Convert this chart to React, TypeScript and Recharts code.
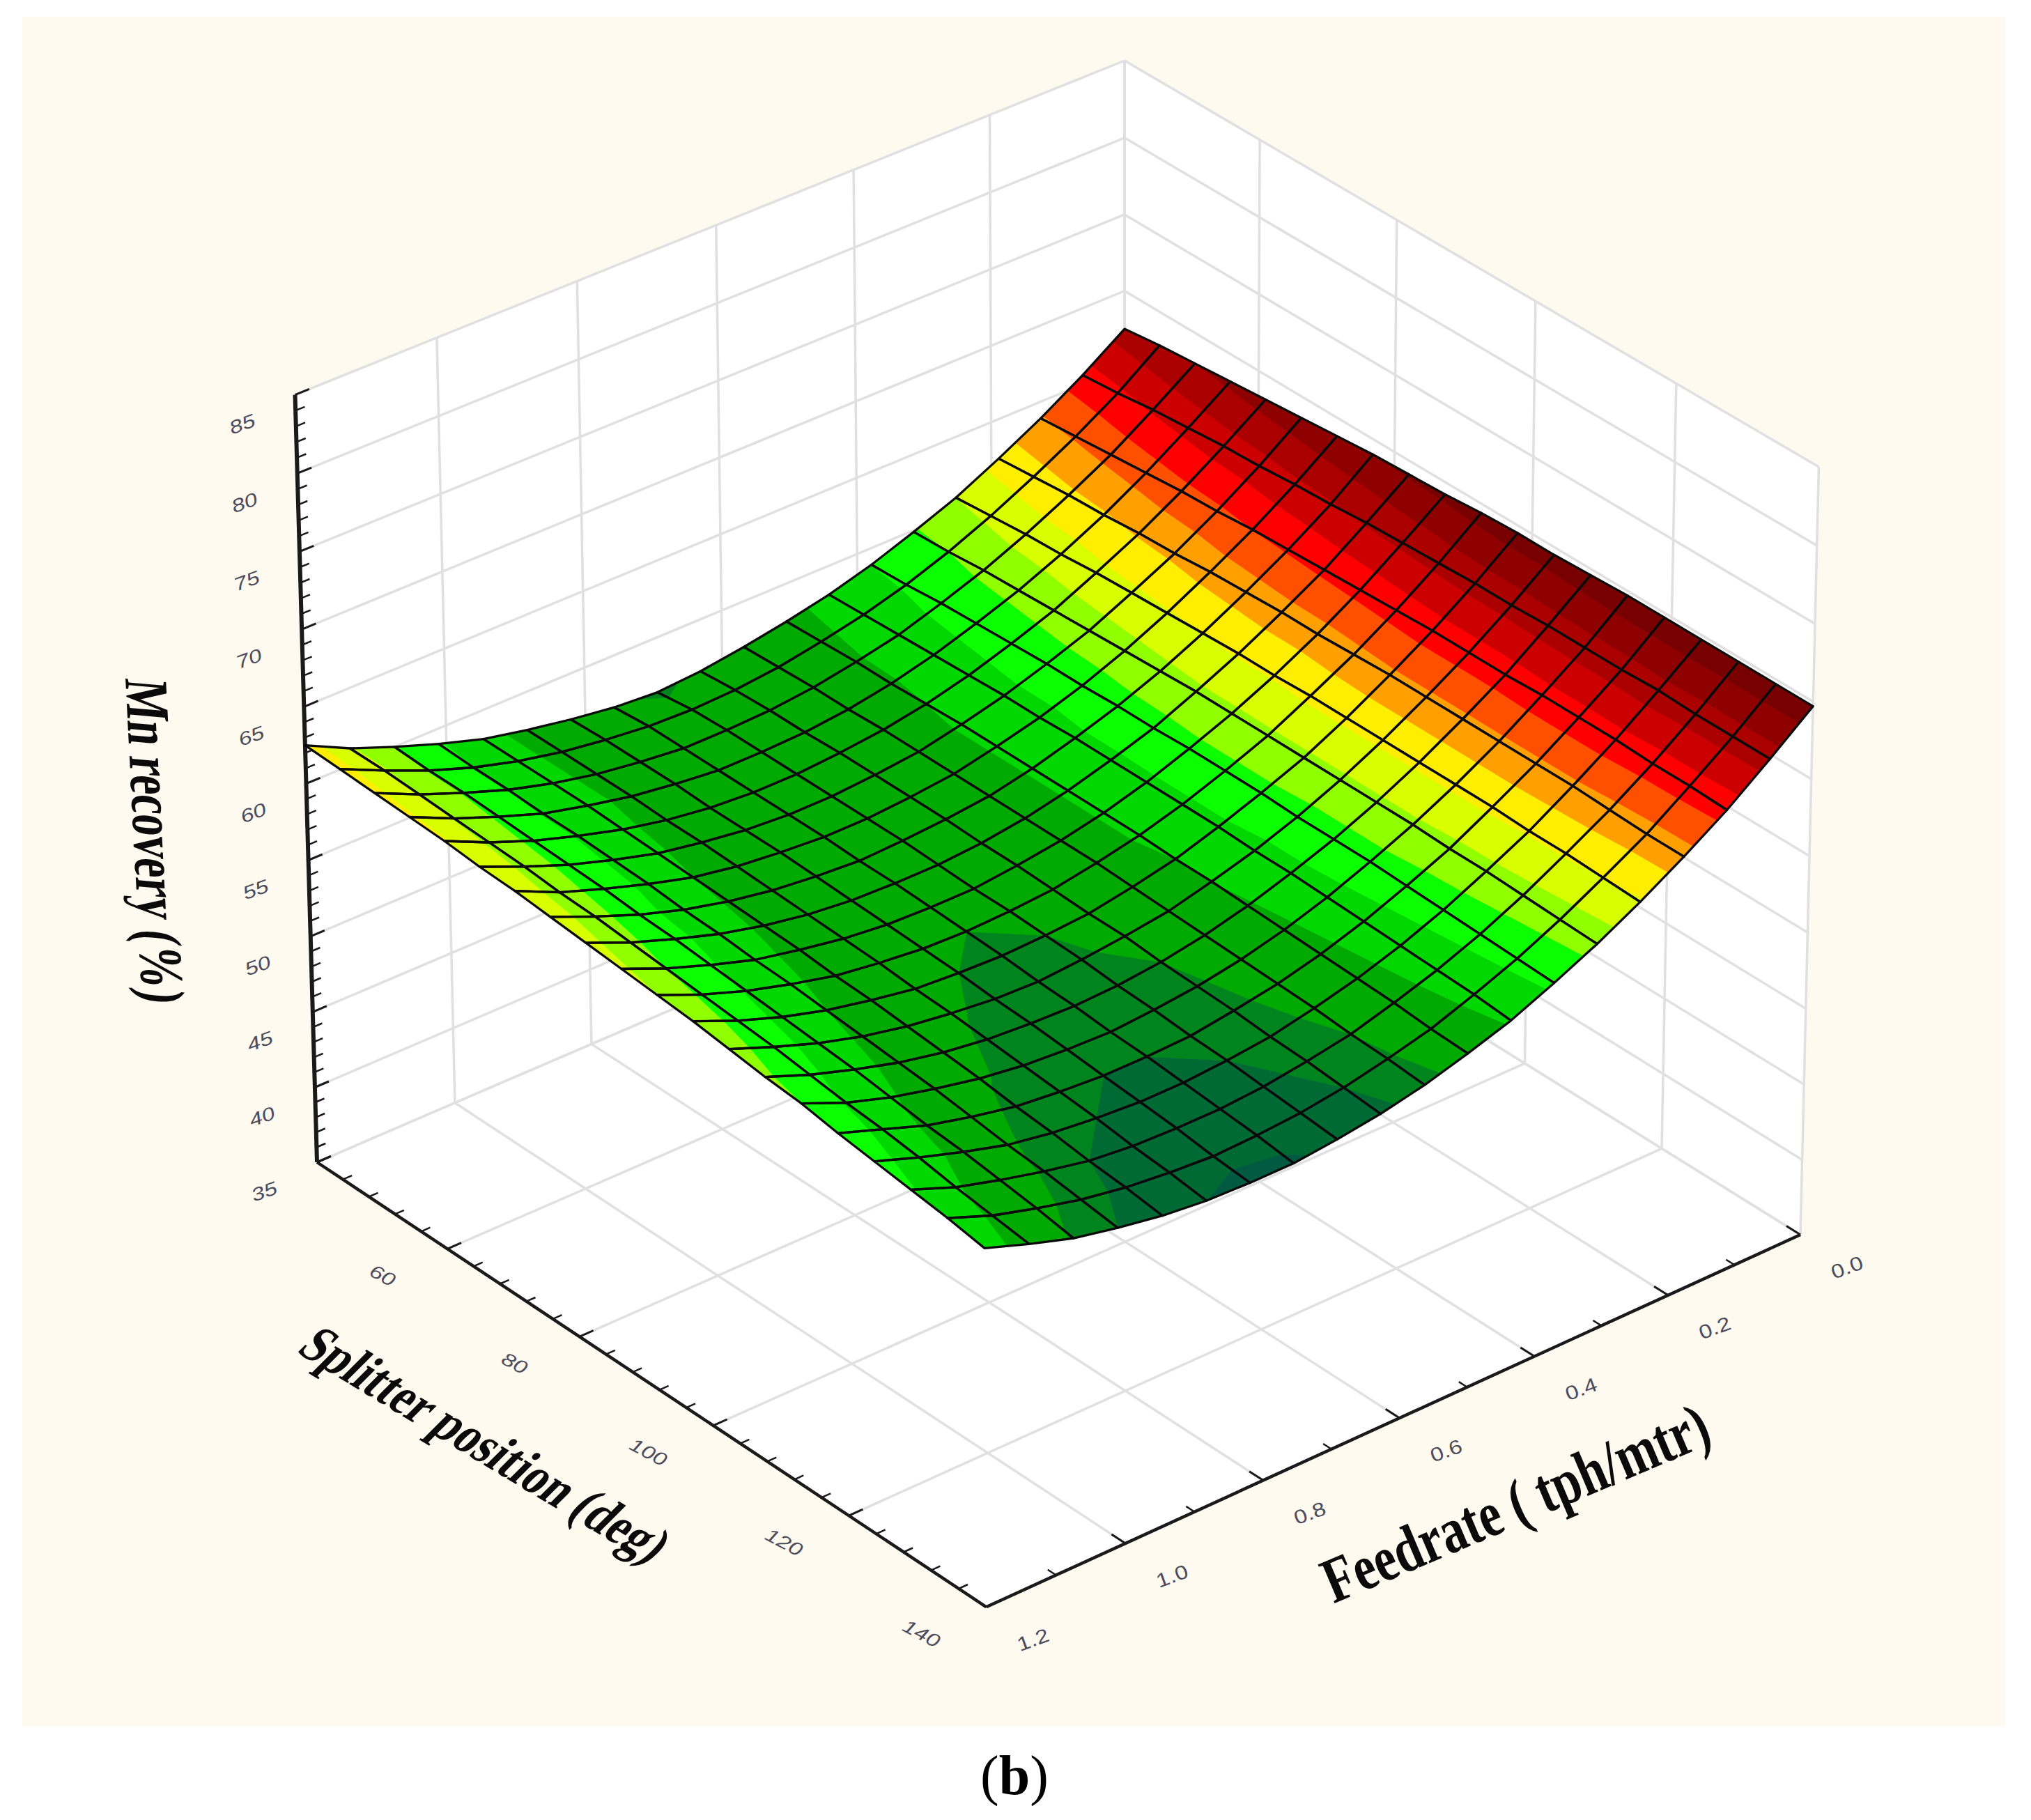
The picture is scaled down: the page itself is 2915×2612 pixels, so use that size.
import { ScatterChart, Scatter, XAxis, YAxis } from "recharts";

// mesh nodes of the fitted surface
const splitterNodes = [40, 45.26, 50.53, 55.79, 61.05, 66.32, 71.58, 76.84, 82.11, 87.37, 92.63, 97.89, 103.16, 108.42, 113.68, 118.95, 124.21, 129.47, 134.74, 140];
const feedrateNodes = [0, 0.063, 0.126, 0.189, 0.253, 0.316, 0.379, 0.442, 0.505, 0.568, 0.632, 0.695, 0.758, 0.821, 0.884, 0.947, 1.011, 1.074, 1.137, 1.2];

// Mn recovery (%), one row per splitter node, one column per feedrate node
const recoveryRows = [
  [67.5, 65.6, 63.9, 62.4, 61.0, 59.9, 58.9, 58.1, 57.5, 57.0, 56.6, 56.4, 56.6, 57.0, 57.5, 58.1, 59.0, 60.0, 61.1, 62.5],
  [67.8, 65.8, 64.1, 62.6, 61.2, 60.0, 59.0, 58.2, 57.6, 57.1, 56.8, 56.7, 56.8, 57.1, 57.5, 58.1, 58.9, 59.9, 61.1, 62.4],
  [68.0, 66.1, 64.3, 62.8, 61.4, 60.2, 59.2, 58.3, 57.7, 57.2, 56.9, 56.8, 56.8, 57.1, 57.5, 58.1, 58.9, 59.9, 61.0, 62.3],
  [68.2, 66.3, 64.5, 62.9, 61.5, 60.3, 59.3, 58.4, 57.7, 57.2, 56.9, 56.8, 56.8, 57.1, 57.5, 58.1, 58.8, 59.8, 60.9, 62.2],
  [68.4, 66.5, 64.7, 63.1, 61.7, 60.4, 59.4, 58.5, 57.8, 57.3, 57.0, 56.8, 56.8, 57.0, 57.4, 58.0, 58.8, 59.7, 60.8, 62.1],
  [68.6, 66.6, 64.8, 63.2, 61.8, 60.5, 59.5, 58.6, 57.9, 57.3, 57.0, 56.8, 56.8, 57.0, 57.4, 57.9, 58.7, 59.6, 60.7, 61.9],
  [68.8, 66.8, 65.0, 63.4, 61.9, 60.6, 59.5, 58.6, 57.9, 57.3, 57.0, 56.8, 56.8, 57.0, 57.3, 57.8, 58.6, 59.5, 60.5, 61.8],
  [69.0, 66.9, 65.1, 63.5, 62.0, 60.7, 59.6, 58.7, 57.9, 57.3, 57.0, 56.8, 56.7, 56.9, 57.2, 57.7, 58.4, 59.3, 60.4, 61.6],
  [69.1, 67.1, 65.2, 63.6, 62.1, 60.8, 59.6, 58.7, 57.9, 57.3, 56.9, 56.7, 56.7, 56.8, 57.1, 57.6, 58.3, 59.2, 60.2, 61.4],
  [69.2, 67.2, 65.3, 63.6, 62.1, 60.8, 59.7, 58.7, 57.9, 57.3, 56.9, 56.6, 56.6, 56.7, 57.0, 57.5, 58.1, 59.0, 60.0, 61.2],
  [69.4, 67.3, 65.4, 63.7, 62.2, 60.8, 59.7, 58.7, 57.9, 57.3, 56.8, 56.6, 56.5, 56.6, 56.9, 57.3, 58.0, 58.8, 59.8, 61.0],
  [69.5, 67.4, 65.5, 63.8, 62.2, 60.8, 59.7, 58.7, 57.8, 57.2, 56.7, 56.5, 56.4, 56.5, 56.7, 57.2, 57.8, 58.6, 59.6, 60.8],
  [69.5, 67.4, 65.5, 63.8, 62.2, 60.8, 59.6, 58.6, 57.8, 57.1, 56.7, 56.4, 56.2, 56.3, 56.6, 57.0, 57.6, 58.4, 59.4, 60.5],
  [69.6, 67.5, 65.5, 63.8, 62.2, 60.8, 59.6, 58.6, 57.7, 57.0, 56.5, 56.2, 56.1, 56.2, 56.4, 56.8, 57.4, 58.2, 59.1, 60.2],
  [69.7, 67.5, 65.6, 63.8, 62.2, 60.8, 59.6, 58.5, 57.6, 56.9, 56.4, 56.1, 55.9, 56.0, 56.2, 56.6, 57.2, 57.9, 58.8, 60.0],
  [69.7, 67.5, 65.6, 63.8, 62.2, 60.7, 59.5, 58.4, 57.5, 56.8, 56.3, 55.9, 55.8, 55.8, 56.0, 56.3, 56.9, 57.6, 58.6, 59.6],
  [69.7, 67.6, 65.6, 63.8, 62.1, 60.7, 59.4, 58.3, 57.4, 56.7, 56.1, 55.8, 55.6, 55.6, 55.8, 56.1, 56.6, 57.4, 58.3, 59.3],
  [69.7, 67.5, 65.5, 63.7, 62.1, 60.6, 59.3, 58.2, 57.3, 56.5, 56.0, 55.6, 55.4, 55.4, 55.5, 55.8, 56.4, 57.1, 57.9, 59.0],
  [69.7, 67.5, 65.5, 63.6, 62.0, 60.5, 59.2, 58.1, 57.1, 56.4, 55.8, 55.4, 55.2, 55.1, 55.3, 55.6, 56.1, 56.8, 57.6, 58.7],
  [69.7, 67.5, 65.4, 63.6, 61.9, 60.4, 59.1, 57.9, 57.0, 56.2, 55.6, 55.2, 54.9, 54.9, 55.0, 55.3, 55.8, 56.4, 57.3, 58.3],
];

// contour levels and the colour between each pair
const bandLevels = [0, 55.0, 55.8, 56.5, 57.8, 58.9, 60, 61, 62, 63, 64, 65, 66, 67, 68, 69, 100];
const bandColors = ["#005a42", "#006a35", "#00841e", "#00aa00", "#00d800", "#0cff00", "#90ff00", "#d8ff00", "#ffee00", "#ffa000", "#ff5000", "#ff0000", "#cc0000", "#aa0000", "#8f0000", "#780000"];

const recoveryTicks = [35, 40, 45, 50, 55, 60, 65, 70, 75, 80, 85];
const recoveryMinor = [36, 37, 38, 39, 41, 42, 43, 44, 46, 47, 48, 49, 51, 52, 53, 54, 56, 57, 58, 59, 61, 62, 63, 64, 66, 67, 68, 69, 71, 72, 73, 74, 76, 77, 78, 79, 81, 82, 83, 84];
const splitterTicks = [40, 60, 80, 100, 120, 140];
const splitterMinor = [44, 48, 52, 56, 64, 68, 72, 76, 84, 88, 92, 96, 104, 108, 112, 116, 124, 128, 132, 136];
const feedrateTicks = [0, 0.2, 0.4, 0.6, 0.8, 1.0, 1.2];
const feedrateMinor = [0.1, 0.3, 0.5, 0.7, 0.9, 1.1];

const W = 2915;
const H = 2612;

// box of the plot: perspective from the four corners seen on the picture
const S0 = 40, S1 = 140, F1 = 1.2, Z0 = 35, Z1 = 85;
const back = [1614, 1169];
const left = [455, 1668];
const right = [2584, 1772];
const top = [1614, 87];
const wLeft = 0.9712, wRight = 0.9683, wTop = 0.9743;

type Pt = { x: number; y: number };
const project = (s: number, f: number, z: number): Pt => {
  const u = (s - S0) / (S1 - S0);
  const v = f / F1;
  const w = (z - Z0) / (Z1 - Z0);
  const h = 1 + (wRight - 1) * u + (wLeft - 1) * v + (wTop - 1) * w;
  const c = (i: number) =>
    back[i] + (wRight * right[i] - back[i]) * u + (wLeft * left[i] - back[i]) * v + (wTop * top[i] - back[i]) * w;
  return { x: c(0) / h, y: c(1) / h };
};

type Poly = { pts: Pt[]; fill?: string; stroke?: string; sw?: number };

// one Scatter holds many shapes: its joint-line callback gets the scaled points
const shapes = (id: string, polys: Poly[]) => {
  const renderLine = ({ points }: any) => {
    let k = 0;
    return (
      <g>
        {polys.map((p, i) => {
          const seg = points.slice(k, k + p.pts.length);
          k += p.pts.length;
          const d = seg.map((q: Pt, n: number) => `${n ? "L" : "M"}${q.x.toFixed(1)} ${q.y.toFixed(1)}`).join("") + (p.fill !== undefined ? "Z" : "");
          return <path key={i} d={d} fill={p.fill ?? "none"} stroke={p.stroke ?? "none"} strokeWidth={p.sw ?? 1} strokeLinejoin="round" />;
        })}
      </g>
    );
  };
  return (
    <Scatter
      key={id}
      name={id}
      data={polys.flatMap((p) => p.pts)}
      line={renderLine}
      shape={() => <g />}
      isAnimationActive={false}
    />
  );
};

const labels = (id: string, items: { x: number; y: number; text: string }[], transform: string, style: any) => (
  <Scatter
    key={id}
    name={id}
    data={items}
    isAnimationActive={false}
    shape={(p: any) => (
      <text transform={`translate(${p.cx} ${p.cy}) ${transform}`} textAnchor="middle" dominantBaseline="central" {...style}>
        {p.payload.text}
      </text>
    )}
  />
);

// clip a polygon of [s, f, z] corners to one contour band
type V3 = [number, number, number];
const clip = (poly: V3[], level: number, keepAbove: boolean): V3[] => {
  const out: V3[] = [];
  poly.forEach((a, i) => {
    const b = poly[(i + 1) % poly.length];
    const ia = keepAbove ? a[2] >= level : a[2] <= level;
    const ib = keepAbove ? b[2] >= level : b[2] <= level;
    if (ia) out.push(a);
    if (ia !== ib) {
      const t = (level - a[2]) / (b[2] - a[2]);
      out.push([a[0] + (b[0] - a[0]) * t, a[1] + (b[1] - a[1]) * t, level]);
    }
  });
  return out;
};

const cellFills: Poly[] = [];
const cellLines: Poly[] = [];
for (let i = 0; i < splitterNodes.length - 1; i++) {
  for (let j = 0; j < feedrateNodes.length - 1; j++) {
    const quad: V3[] = [
      [splitterNodes[i], feedrateNodes[j], recoveryRows[i][j]],
      [splitterNodes[i + 1], feedrateNodes[j], recoveryRows[i + 1][j]],
      [splitterNodes[i + 1], feedrateNodes[j + 1], recoveryRows[i + 1][j + 1]],
      [splitterNodes[i], feedrateNodes[j + 1], recoveryRows[i][j + 1]],
    ];
    bandColors.forEach((color, b) => {
      const part = clip(clip(quad, bandLevels[b], true), bandLevels[b + 1], false);
      if (part.length > 2) {
        cellFills.push({ pts: part.map((c) => project(c[0], c[1], c[2])), fill: color, stroke: color, sw: 1 });
      }
    });
    cellLines.push({ pts: quad.map((c) => project(c[0], c[1], c[2])), fill: "none", stroke: "#0a0a0a", sw: 3.3 });
  }
}

const panel: Poly[] = [
  { pts: [{ x: 32, y: 24 }, { x: 2878, y: 24 }, { x: 2878, y: 2478 }, { x: 32, y: 2478 }], fill: "#fffaf0" },
  { pts: [project(S0, F1, Z0), project(S1, F1, Z0), project(S1, 0, Z0), project(S1, 0, Z1), project(S0, 0, Z1), project(S0, F1, Z1)], fill: "#ffffff" },
];

const GRID = "#e0e0e0";
const line = (a: Pt, b: Pt, stroke = GRID, sw = 3.5): Poly => ({ pts: [a, b], stroke, sw });

const gridLines: Poly[] = [
  ...recoveryTicks.flatMap((z) => [
    line(project(S0, F1, z), project(S0, 0, z)),
    line(project(S0, 0, z), project(S1, 0, z)),
  ]),
  ...feedrateTicks.flatMap((f) => [
    line(project(S0, f, Z0), project(S0, f, Z1)),
    line(project(S0, f, Z0), project(S1, f, Z0)),
  ]),
  ...splitterTicks.flatMap((s) => [
    line(project(s, 0, Z0), project(s, 0, Z1)),
    line(project(s, 0, Z0), project(s, F1, Z0)),
  ]),
];

const AXIS = "#1a1a1a";
const axisLines: Poly[] = [
  line(project(S0, F1, Z0), project(S0, F1, Z1), AXIS, 6),
  line(project(S0, F1, Z0), project(S1, F1, Z0), AXIS, 4.5),
  line(project(S1, F1, Z0), project(S1, 0, Z0), AXIS, 4.5),
  ...recoveryTicks.map((z) => line(project(S0, F1, z), project(S0, 1.18, z), AXIS, 3)),
  ...recoveryMinor.map((z) => line(project(S0, F1, z), project(S0, 1.187, z), AXIS, 2.5)),
  ...splitterTicks.map((s) => line(project(s, F1, Z0), project(s, 1.18, Z0), AXIS, 3)),
  ...splitterMinor.map((s) => line(project(s, F1, Z0), project(s, 1.187, Z0), AXIS, 2.5)),
  ...feedrateTicks.map((f) => line(project(S1, f, Z0), project(138, f, Z0), AXIS, 3)),
  ...feedrateMinor.map((f) => line(project(S1, f, Z0), project(138.8, f, Z0), AXIS, 2.5)),
];

const TICK = { fontFamily: "Liberation Sans", fontStyle: "italic", fontSize: 28, fill: "#4c4c5c" };
const TITLE = { fontFamily: "Liberation Serif", fontWeight: 700, fill: "#0a0a0a" };

const recoveryLabels = recoveryTicks.map((z) => {
  const p = project(S0, F1, z);
  return { x: p.x - 76, y: p.y + 42, text: String(z) };
});
const splitterLabels = splitterTicks.slice(1).map((s) => {
  const p = project(s, F1, Z0);
  return { x: p.x - 93, y: p.y + 38, text: String(s) };
});
const feedrateLabels = feedrateTicks.map((f) => {
  const p = project(S1, f, Z0);
  return { x: p.x + 67, y: p.y + 47, text: f.toFixed(1) };
});

const caption = [{ x: 1456, y: 2548 }];

export default function App() {
  return (
    <div style={{ position: "absolute", left: 0, top: 0, width: W, height: H, background: "#ffffff" }}>
      <ScatterChart width={W} height={H} margin={{ top: 0, right: 0, bottom: 0, left: 0 }}>
        <XAxis type="number" dataKey="x" domain={[0, W]} hide />
        <YAxis type="number" dataKey="y" domain={[0, H]} reversed hide />
        {shapes("panel", panel)}
        {shapes("grid", gridLines)}
        {shapes("axes", axisLines)}
        {shapes("surface", cellFills)}
        {shapes("mesh", cellLines)}
        {labels("recoveryTicks", recoveryLabels, "rotate(-20) scale(1.2,0.95)", TICK)}
        {labels("splitterTicks", splitterLabels, "rotate(28) scale(1.2,0.95)", TICK)}
        {labels("feedrateTicks", feedrateLabels, "rotate(-20) scale(1.2,1)", { ...TICK, fontStyle: "normal" })}
        {labels("recoveryTitle", [{ x: 222, y: 1208, text: "Mn recovery (%)" }], "rotate(87) skewX(-8) scale(0.93,1.3)", { ...TITLE, fontSize: 68 })}
        {labels("splitterTitle", [{ x: 697, y: 2073, text: "Splitter position (deg)" }], "rotate(31) skewX(-14) scale(0.97,1.2)", { ...TITLE, fontSize: 66 })}
        {labels("feedrateTitle", [{ x: 2175, y: 2157, text: "Feedrate ( tph/mtr)" }], "rotate(-23) scale(0.97,1.25)", { ...TITLE, fontSize: 74 })}
        <Scatter
          name="caption"
          data={caption}
          isAnimationActive={false}
          shape={(p: any) => (
            <text x={p.cx} y={p.cy} textAnchor="middle" dominantBaseline="central" fontFamily="Liberation Serif" fontSize={80} fill="#000000">
              (<tspan fontWeight={700}>b</tspan>)
            </text>
          )}
        />
      </ScatterChart>
    </div>
  );
}
